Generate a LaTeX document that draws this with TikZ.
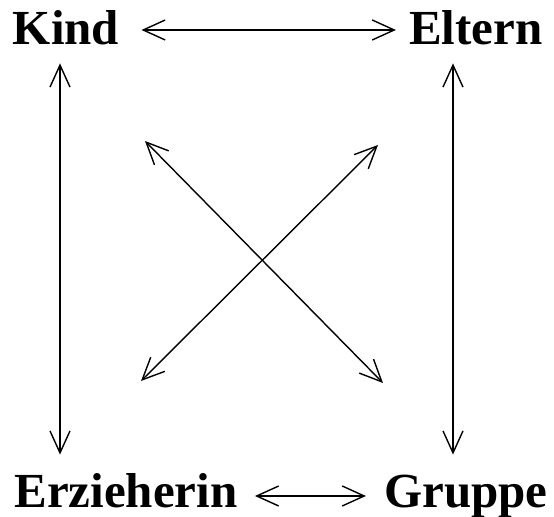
\documentclass[tikz,border=0pt]{standalone}
\usepackage{fontspec}
\setmainfont{Liberation Serif}
\usetikzlibrary{arrows.meta}
\begin{document}
\begin{tikzpicture}[
  x=0.5pt,y=-0.5pt,
  role/.style={inner sep=0pt,text height=15pt,text depth=0pt,font=\bfseries\fontsize{24.5}{28}\selectfont},
  link/.style={{Straight Barb[length=11pt,width=10pt]}-{Straight Barb[length=11pt,width=10pt]},line width=0.7pt,draw=black}]
\useasboundingbox (0,0) rectangle (554,517);
\node[role] (kind) at (66,30) {Kind};
\node[role] (eltern) at (476,30) {Eltern};
\node[role] (erz) at (126,493) {Erzieherin};
\node[role] (gruppe) at (466,493) {Gruppe};
\coordinate (kx) at (145,141);
\coordinate (gx) at (383,383);
\coordinate (ex) at (378,145);
\coordinate (zx) at (141,381);
\draw[link,shorten <=11pt,shorten >=6.5pt] (kind.east) -- (eltern.west);
\draw[link,shorten <=8.5pt,shorten >=9pt] ([yshift=-1.5pt]erz.east) -- ([yshift=-1.5pt]gruppe.west);
\draw[link,shorten <=9pt,shorten >=11.5pt] ([xshift=-3pt]kind.south) -- ([xshift=-3pt]kind.south |- erz.north);
\draw[link,shorten <=9pt,shorten >=11.5pt] ([xshift=-11.5pt]eltern.south) -- ([xshift=-11.5pt]eltern.south |- gruppe.north);
\draw[link] (kx) -- (gx);
\draw[link] (ex) -- (zx);
\end{tikzpicture}
\end{document}
